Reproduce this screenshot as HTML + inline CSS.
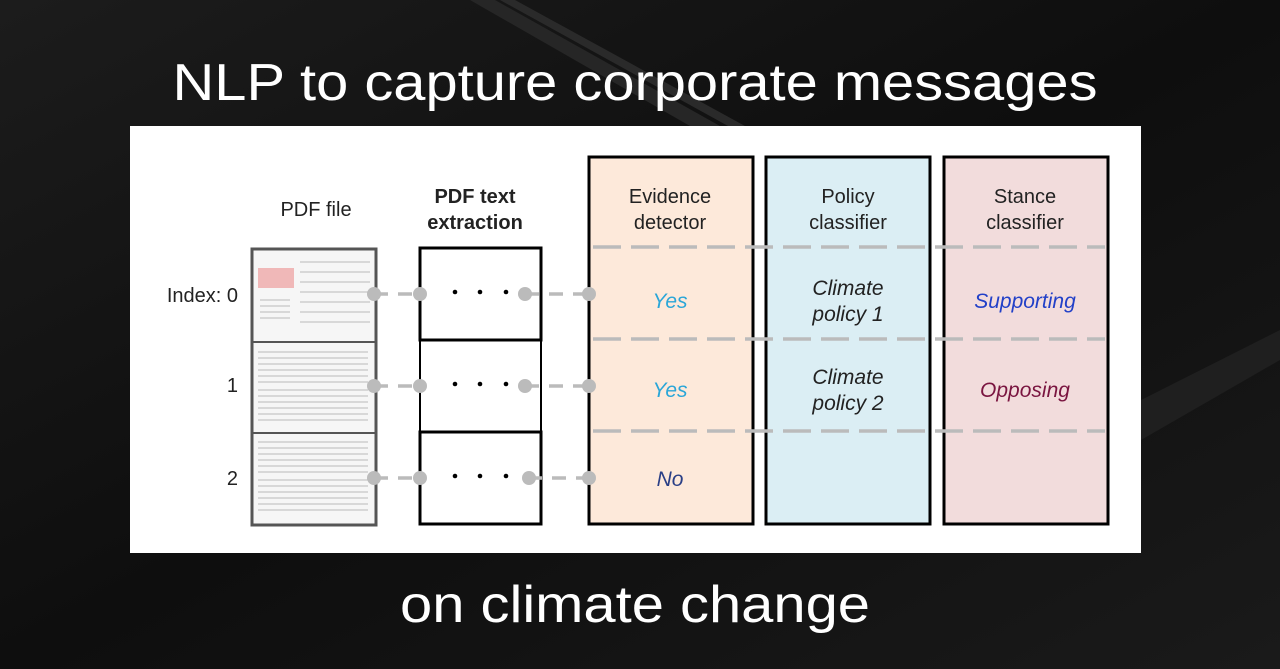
<!DOCTYPE html>
<html><head><style>
html,body{margin:0;padding:0;width:1280px;height:669px;overflow:hidden;background:#111;}
</style></head><body>
<svg width="1280" height="669" xmlns="http://www.w3.org/2000/svg" font-family="Liberation Sans, DejaVu Sans, sans-serif">
<defs>
<linearGradient id="bg" x1="0" y1="0" x2="1" y2="1">
<stop offset="0" stop-color="#1c1c1c"/><stop offset="0.5" stop-color="#0e0e0e"/><stop offset="1" stop-color="#1a1a1a"/>
</linearGradient>
</defs>
<rect width="1280" height="669" fill="url(#bg)"/>
<polygon points="470,0 495,0 720,126 690,126" fill="#262626"/>
<polygon points="500,0 515,0 745,126 728,126" fill="#2a2a2a"/>
<polygon points="1141,400 1280,330 1280,360 1141,440" fill="#1f1f1f"/>
<text x="635" y="100" fill="#fff" font-size="52" text-anchor="middle" textLength="925" lengthAdjust="spacingAndGlyphs">NLP to capture corporate messages</text>
<text x="635" y="622" fill="#fff" font-size="52" text-anchor="middle" textLength="470" lengthAdjust="spacingAndGlyphs">on climate change</text>
<rect x="130" y="126" width="1011" height="427" fill="#fff"/>
<!-- columns -->
<rect x="589" y="157" width="164" height="367" fill="#fde9da" stroke="#000" stroke-width="3"/>
<rect x="766" y="157" width="164" height="367" fill="#dbeef4" stroke="#000" stroke-width="3"/>
<rect x="944" y="157" width="164" height="367" fill="#f2dcdc" stroke="#000" stroke-width="3"/>
<g stroke="#bbb" stroke-width="3.5" stroke-dasharray="28,10">
<line x1="593" y1="247" x2="1105" y2="247"/>
<line x1="593" y1="339" x2="1105" y2="339"/>
<line x1="593" y1="431" x2="1105" y2="431"/>
</g>
<g font-size="20" text-anchor="middle" fill="#222">
<text x="670" y="203">Evidence</text><text x="670" y="229">detector</text>
<text x="848" y="203">Policy</text><text x="848" y="229">classifier</text>
<text x="1025" y="203">Stance</text><text x="1025" y="229">classifier</text>
<text x="316" y="216">PDF file</text>
<text x="475" y="203" font-weight="bold">PDF text</text><text x="475" y="229" font-weight="bold">extraction</text>
<text x="238" y="302" text-anchor="end">Index: 0</text>
<text x="238" y="392" text-anchor="end">1</text>
<text x="238" y="485" text-anchor="end">2</text>
</g>
<g font-size="21" font-style="italic" text-anchor="middle">
<text x="670" y="308" fill="#2aa6d8">Yes</text>
<text x="670" y="397" fill="#2aa6d8">Yes</text>
<text x="670" y="486" fill="#2a3f86">No</text>
<text x="848" y="295" fill="#222">Climate</text><text x="848" y="321" fill="#222">policy 1</text>
<text x="848" y="384" fill="#222">Climate</text><text x="848" y="410" fill="#222">policy 2</text>
<text x="1025" y="308" fill="#2240c8">Supporting</text>
<text x="1025" y="397" fill="#7a1540">Opposing</text>
</g>
<!-- PDF stack -->
<rect x="252" y="249" width="124" height="276" fill="#f6f6f6" stroke="#555" stroke-width="3"/>
<line x1="252" y1="342" x2="376" y2="342" stroke="#555" stroke-width="2"/>
<line x1="252" y1="433" x2="376" y2="433" stroke="#555" stroke-width="2"/>
<rect x="258" y="268" width="36" height="20" fill="#f0b8b8"/>
<g stroke="#bbb" stroke-width="1">
<path d="M260 300h30M260 306h30M260 312h30M260 318h30M300 262h70M300 272h70M300 282h70M300 292h70M300 302h70M300 312h70M300 322h70"/>
<path d="M258 352h110M258 358h110M258 364h110M258 370h110M258 376h110M258 382h110M258 390h110M258 396h110M258 402h110M258 408h110M258 414h110M258 420h110"/>
<path d="M258 442h110M258 448h110M258 454h110M258 460h110M258 466h110M258 472h110M258 480h110M258 486h110M258 492h110M258 498h110M258 504h110M258 510h110"/>
</g>
<!-- extraction boxes -->
<rect x="420" y="248" width="121" height="276" fill="#fff" stroke="#000" stroke-width="2"/>
<rect x="420" y="248" width="121" height="92" fill="none" stroke="#000" stroke-width="3"/>
<rect x="420" y="432" width="121" height="92" fill="none" stroke="#000" stroke-width="3"/>
<!-- connectors -->
<g stroke="#bbb" stroke-width="3.5" stroke-dasharray="14,10">
<line x1="374" y1="294" x2="420" y2="294"/><line x1="525" y1="294" x2="589" y2="294"/>
<line x1="374" y1="386" x2="420" y2="386"/><line x1="525" y1="386" x2="589" y2="386"/>
<line x1="374" y1="478" x2="420" y2="478"/><line x1="528" y1="478" x2="589" y2="478"/>
</g>
<g fill="#bbb">
<circle cx="374" cy="294" r="7"/><circle cx="420" cy="294" r="7"/><circle cx="525" cy="294" r="7"/><circle cx="589" cy="294" r="7"/>
<circle cx="374" cy="386" r="7"/><circle cx="420" cy="386" r="7"/><circle cx="525" cy="386" r="7"/><circle cx="589" cy="386" r="7"/>
<circle cx="374" cy="478" r="7"/><circle cx="420" cy="478" r="7"/><circle cx="529" cy="478" r="7"/><circle cx="589" cy="478" r="7"/>
</g>
<g fill="#000">
<circle cx="455" cy="292" r="2.3"/><circle cx="480" cy="292" r="2.3"/><circle cx="506" cy="292" r="2.3"/>
<circle cx="455" cy="384" r="2.3"/><circle cx="480" cy="384" r="2.3"/><circle cx="506" cy="384" r="2.3"/>
<circle cx="455" cy="476" r="2.3"/><circle cx="480" cy="476" r="2.3"/><circle cx="506" cy="476" r="2.3"/>
</g>
</svg>
</body></html>
